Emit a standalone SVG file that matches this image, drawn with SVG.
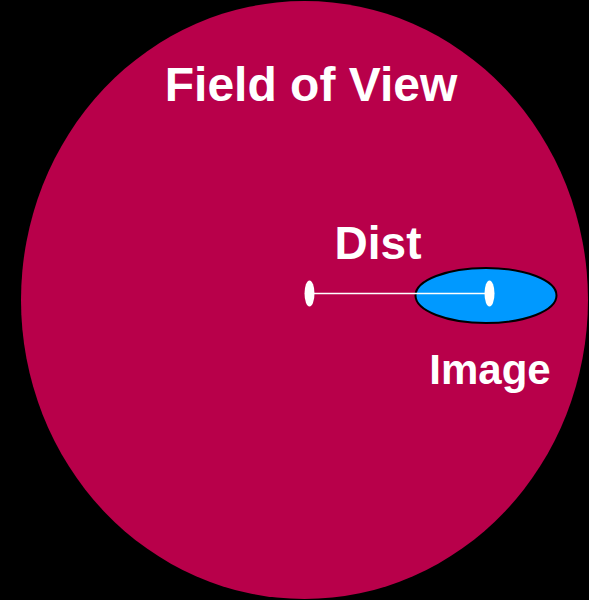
<svg xmlns="http://www.w3.org/2000/svg" width="589" height="600" viewBox="0 0 589 600">
  <style>
    .lbl { font-family: "Liberation Sans", Arial, sans-serif; font-weight: bold; fill: #ffffff; text-anchor: middle; }
    .mark { fill: #ffffff; }
  </style>
  <rect x="0" y="0" width="589" height="600" fill="#000000"/>
  <g id="field-of-view">
    <ellipse cx="304.5" cy="300" rx="283.5" ry="299" fill="#B8004A"/>
    <text class="lbl" x="311" y="100.5" font-size="48">Field of View</text>
  </g>
  <g id="image">
    <ellipse cx="486" cy="295.5" rx="70.5" ry="27.5" fill="#0099FF" stroke="#000000" stroke-width="2"/>
    <text class="lbl" x="490" y="384.3" font-size="42">Image</text>
  </g>
  <g id="connectors">
    <line x1="309.5" y1="293.5" x2="489.5" y2="293.5" stroke="#ffffff" stroke-width="1.5"/>
    <ellipse class="mark" cx="309.5" cy="293.5" rx="5" ry="13"/>
    <ellipse class="mark" cx="489.5" cy="293.5" rx="5" ry="13"/>
  </g>
  <g id="dist-label">
    <text class="lbl" x="378" y="258.5" font-size="46">Dist</text>
  </g>
</svg>
